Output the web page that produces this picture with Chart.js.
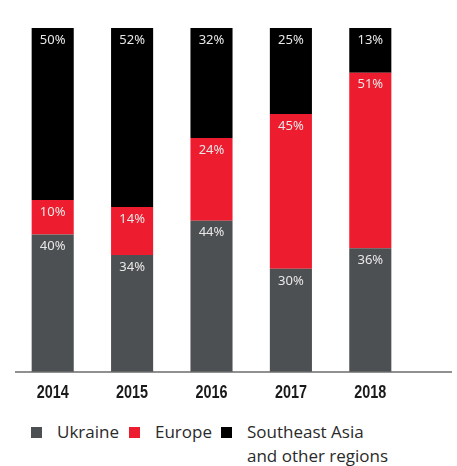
<!DOCTYPE html>
<html>
<head>
<meta charset="UTF-8">
<script src="https://cdn.jsdelivr.net/npm/chart.js@4.4.1/dist/chart.umd.min.js"></script>
<style>
  body, html { margin: 0; padding: 0; background: #fff; }
  #wrap { position: relative; width: 457px; height: 466px; }
  #chart-box { position: absolute; left: 0; top: 0; width: 457px; height: 410px; }
  #legend { position: absolute; left: 31px; top: 420px; font-family: 'Open Sans', sans-serif; font-size: 17px; color: #2a2a2a; }
  .item { position: absolute; top: 0; white-space: nowrap; line-height: 24px; }
  .box { position: absolute; top: 7px; width: 11px; height: 11px; }
  .txt { position: absolute; top: 0; }
</style>
</head>
<body>
<div id="wrap">
  <div id="chart-box"><canvas id="chart"></canvas></div>
  <div id="legend"></div>
</div>
<script>
const years = ['2014', '2015', '2016', '2017', '2018'];
const ukraine = [40, 34, 44, 30, 36];
const europe = [10, 14, 24, 45, 51];
const asia = [50, 52, 32, 25, 13];
const seriesNames = ['Ukraine', 'Europe', ['Southeast Asia', 'and other regions']];
const seriesColors = ['#4d5052', '#ed1c2e', '#000000'];

// value labels near the top of every segment
const segLabels = {
  id: 'segLabels',
  afterDatasetsDraw(chart) {
    const ctx = chart.ctx;
    ctx.save();
    ctx.font = '13px "Noto Sans", sans-serif';
    ctx.fillStyle = '#e8e8e8';
    ctx.textAlign = 'center';
    ctx.textBaseline = 'middle';
    chart.data.datasets.forEach((ds, i) => {
      chart.getDatasetMeta(i).data.forEach((bar, j) => {
        ctx.fillText(ds.data[j] + '%', bar.x, bar.y + 12);
      });
    });
    ctx.restore();
  }
};

// baseline past the last bar + condensed bold year labels
const xAxisDeco = {
  id: 'xAxisDeco',
  afterDraw(chart) {
    const ctx = chart.ctx;
    const y = chart.chartArea.bottom;
    const xs = chart.scales.x;
    ctx.save();
    ctx.strokeStyle = '#6b6b6b';
    ctx.lineWidth = 1.5;
    ctx.beginPath();
    ctx.moveTo(15, y);
    ctx.lineTo(452, y);
    ctx.stroke();
    ctx.fillStyle = '#1a1a1a';
    ctx.font = 'bold 18px "Liberation Sans", sans-serif';
    ctx.textAlign = 'center';
    ctx.textBaseline = 'alphabetic';
    years.forEach((yr, i) => {
      const x = xs.getPixelForTick(i);
      ctx.save();
      ctx.translate(x, y + 26);
      ctx.scale(0.8, 1);
      ctx.fillText(yr, 0, 0);
      ctx.restore();
    });
    ctx.restore();
  }
};

new Chart(document.getElementById('chart'), {
  type: 'bar',
  data: {
    labels: years,
    datasets: [ukraine, europe, asia].map((d, i) => ({
      label: Array.isArray(seriesNames[i]) ? seriesNames[i].join(' ') : seriesNames[i],
      data: d,
      backgroundColor: seriesColors[i],
      borderWidth: 0,
      categoryPercentage: 1,
      barPercentage: 0.53
    }))
  },
  options: {
    responsive: true,
    maintainAspectRatio: false,
    animation: false,
    layout: { padding: { left: 13, right: 47, top: 28, bottom: 38 } },
    plugins: { legend: { display: false }, tooltip: { enabled: false } },
    scales: {
      x: { stacked: true, display: false },
      y: { stacked: true, display: false, min: 0, max: 100 }
    }
  },
  plugins: [segLabels, xAxisDeco]
});

// HTML legend so the last entry can wrap onto two lines
const legend = document.getElementById('legend');
const boxX = [0, 98, 190];
seriesNames.forEach((name, i) => {
  const item = document.createElement('div');
  item.className = 'item';
  item.style.left = boxX[i] + 'px';
  const box = document.createElement('span');
  box.className = 'box';
  box.style.background = seriesColors[i];
  const txt = document.createElement('span');
  txt.className = 'txt';
  txt.style.left = '26px';
  txt.innerHTML = (Array.isArray(name) ? name : [name]).join('<br>');
  item.appendChild(box);
  item.appendChild(txt);
  legend.appendChild(item);
});
</script>
</body>
</html>
